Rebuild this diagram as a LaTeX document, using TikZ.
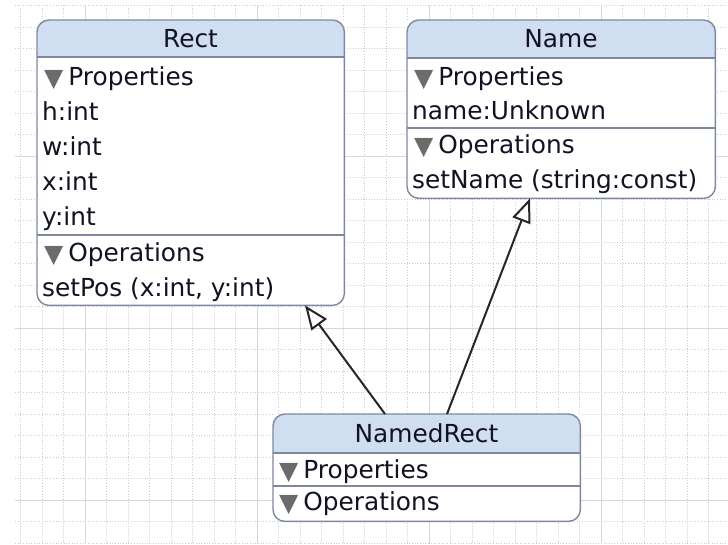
\documentclass[tikz,border=0pt]{standalone}
\usepackage{fontspec}
\setmainfont{DejaVu Sans}
\usepackage{xcolor}
\definecolor{umlhead}{RGB}{208,222,242}
\definecolor{umledge}{RGB}{125,136,158}
\definecolor{umltext}{RGB}{18,18,34}
\definecolor{umlgrid}{RGB}{200,205,216}
\usepackage{tikz}
\usetikzlibrary{arrows.meta,positioning}

\newcommand{\folddown}{\raisebox{-1pt}{\fontsize{25}{25}\selectfont\color{black!58}▼}\hspace{5pt}}

\begin{document}
\begin{tikzpicture}[x=1pt, y=-1pt,
  every node/.style={font=\fontsize{24.8}{28}\selectfont, text=umltext},
  gridminor/.style={umlgrid, line width=0.7pt, dotted},
  gridmajor/.style={umlgrid!80, line width=0.9pt},
  classbox/.style={fill=white, anchor=north west, inner sep=0pt},
  classframe/.style={draw=umledge, line width=1.4pt, rounded corners=12pt},
  sepline/.style={umledge, line width=1.1pt},
  rowtext/.style={anchor=base west, inner sep=0pt},
  titletext/.style={anchor=base, inner sep=0pt},
  inherit/.style={-{Triangle[open, length=24pt, width=19pt, fill=white]}, black!85, line width=2pt}]
  \useasboundingbox (0,0) rectangle (728,544);
  % grid paper
  \foreach \gx in {20.5,42,...,728} \draw[gridminor] (\gx,5) -- (\gx,544);
  \foreach \gy in {5.5,27,...,544} \draw[gridminor] (15,\gy) -- (728,\gy);
  \foreach \gx in {85,257,429,601} \draw[gridmajor] (\gx,5) -- (\gx,544);
  \foreach \gy in {156,328,500} \draw[gridmajor] (15,\gy) -- (728,\gy);

  % class boxes
  \node[classbox, minimum width=307pt, minimum height=285pt] (rect) at (37,20) {};
  \node[classbox, minimum width=308pt, minimum height=178pt] (name) at (407,20) {};
  \node[classbox, minimum width=307pt, minimum height=107pt] (named) at (273,414) {};
  \foreach \c/\h in {rect/37, name/38, named/39} {
    \begin{scope}
      \clip[rounded corners=12pt] (\c.north west) rectangle (\c.south east);
      \fill[umlhead] (\c.north west) rectangle ([yshift=-\h pt]\c.north east);
    \end{scope}
    \draw[sepline] ([yshift=-\h pt]\c.north west) -- ([yshift=-\h pt]\c.north east);
  }
  \draw[sepline] ([yshift=-215pt]rect.north west) -- ([yshift=-215pt]rect.north east);
  \draw[sepline] ([yshift=-108pt]name.north west) -- ([yshift=-108pt]name.north east);
  \draw[sepline] ([yshift=-72pt]named.north west) -- ([yshift=-72pt]named.north east);
  \foreach \c in {rect, name, named}
    \draw[classframe] (\c.north west) rectangle (\c.south east);

  % Rect
  \node[titletext] (rect-title) at (190.5,47) {Rect};
  \node[rowtext] (rect-props) at (44,85) {\folddown Properties};
  \node[rowtext] (rect-h) at (42,120) {h:int};
  \node[rowtext] (rect-w) at (42,155) {w:int};
  \node[rowtext] (rect-x) at (42,190) {x:int};
  \node[rowtext] (rect-y) at (42,225) {y:int};
  \node[rowtext] (rect-ops) at (44,261) {\folddown Operations};
  \node[rowtext] (rect-setpos) at (42,296) {setPos (x:int, y:int)};

  % Name
  \node[titletext] (name-title) at (561,47) {Name};
  \node[rowtext] (name-props) at (414,85) {\folddown Properties};
  \node[rowtext] (name-name) at (412,119) {name:Unknown};
  \node[rowtext] (name-ops) at (414,153) {\folddown Operations};
  \node[rowtext] (name-setname) at (412,188) {setName (string:const)};

  % NamedRect
  \node[titletext] (named-title) at (426.5,442) {NamedRect};
  \node[rowtext] (named-props) at (279,478) {\folddown Properties};
  \node[rowtext] (named-ops) at (279,510) {\folddown Operations};

  % generalisation arrows
  \draw[inherit] ([xshift=112pt]named.north west) -- ([xshift=268pt]rect.south west);
  \draw[inherit] ([xshift=174pt]named.north west) -- ([xshift=123pt]name.south west);
\end{tikzpicture}
\end{document}
